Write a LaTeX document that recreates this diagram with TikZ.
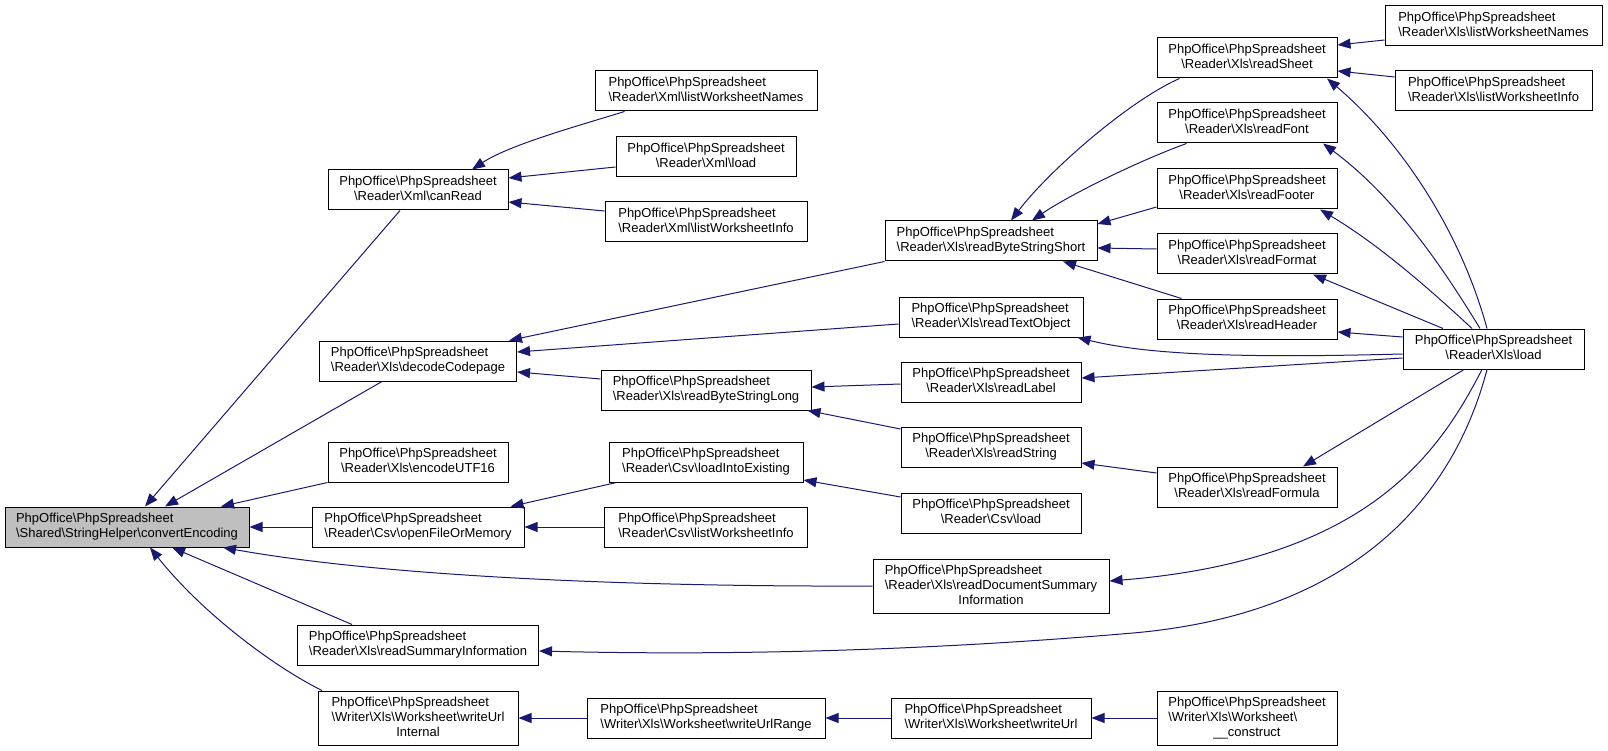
\documentclass[tikz,border=0pt]{standalone}
\usepackage{fontspec}
\setmainfont{Liberation Sans}
\usetikzlibrary{calc,arrows.meta}
\definecolor{edgec}{HTML}{191970}
\definecolor{rootc}{HTML}{BFBFBF}
\tikzset{
  ar/.style={-{Triangle[length=13pt,width=10pt]},line width=1pt,edgec},
  box/.style={draw=black,line width=1pt,fill=white,inner sep=0pt,minimum width=180pt,minimum height=40pt,font=\fontsize{13}{15}\selectfont},
  tall/.style={minimum height=54pt}
}
\newcommand{\bs}{\textbackslash}
\newcommand{\pn}[1]{\begin{tabular}{@{}l@{}}PhpOffice\bs PhpSpreadsheet\\\multicolumn{1}{@{}c@{}}{#1}\end{tabular}}
\newcommand{\pnn}[2]{\begin{tabular}{@{}l@{}}PhpOffice\bs PhpSpreadsheet\\#1\\\multicolumn{1}{@{}c@{}}{#2}\end{tabular}}

\begin{document}
\begin{tikzpicture}[x=1pt,y=-1pt]
\useasboundingbox (0,0) rectangle (1608,751);
% callee
\node[box,fill=rootc,minimum width=244pt] (conv) at (127,527) {\pn{\bs Shared\bs StringHelper\bs convertEncoding}};
% first callers
\node[box] (canRead) at (418,190) {\pn{\bs Reader\bs Xml\bs canRead}};
\node[box,minimum width=197pt] (decode) at (418,361) {\pn{\bs Reader\bs Xls\bs decodeCodepage}};
\node[box] (encode) at (418,462) {\pn{\bs Reader\bs Xls\bs encodeUTF16}};
\node[box,minimum width=212pt] (openFile) at (418,527) {\pn{\bs Reader\bs Csv\bs openFileOrMemory}};
\node[box,minimum width=241pt] (readSumm) at (418,645) {\pn{\bs Reader\bs Xls\bs readSummaryInformation}};
\node[box,tall,minimum width=200pt] (wUrlInt) at (418,718) {\pnn{\bs Writer\bs Xls\bs Worksheet\bs writeUrl}{Internal}};
% second column
\node[box,minimum width=222pt] (xmlNames) at (706,91) {\pn{\bs Reader\bs Xml\bs listWorksheetNames}};
\node[box] (xmlLoad) at (706,157) {\pn{\bs Reader\bs Xml\bs load}};
\node[box,minimum width=202pt] (xmlInfo) at (706,222) {\pn{\bs Reader\bs Xml\bs listWorksheetInfo}};
\node[box,minimum width=210pt] (rbsl) at (706,390) {\pn{\bs Reader\bs Xls\bs readByteStringLong}};
\node[box,minimum width=194pt] (loadInto) at (706,462) {\pn{\bs Reader\bs Csv\bs loadIntoExisting}};
\node[box,minimum width=203pt] (csvInfo) at (706,527) {\pn{\bs Reader\bs Csv\bs listWorksheetInfo}};
\node[box,minimum width=238pt] (wUrlRange) at (706,718) {\pn{\bs Writer\bs Xls\bs Worksheet\bs writeUrlRange}};
% third column
\node[box,minimum width=212pt] (rbss) at (991,241) {\pn{\bs Reader\bs Xls\bs readByteStringShort}};
\node[box,minimum width=184pt] (rto) at (991,317) {\pn{\bs Reader\bs Xls\bs readTextObject}};
\node[box] (rLabel) at (991,382) {\pn{\bs Reader\bs Xls\bs readLabel}};
\node[box] (rString) at (991,447) {\pn{\bs Reader\bs Xls\bs readString}};
\node[box] (csvLoad) at (991,513) {\pn{\bs Reader\bs Csv\bs load}};
\node[box,tall,minimum width=236pt] (rDocSum) at (991,586) {\pnn{\bs Reader\bs Xls\bs readDocumentSummary}{Information}};
\node[box,minimum width=200pt] (wUrl) at (991,718) {\pn{\bs Writer\bs Xls\bs Worksheet\bs writeUrl}};
% fourth column
\node[box] (readSheet) at (1247,58) {\pn{\bs Reader\bs Xls\bs readSheet}};
\node[box] (readFont) at (1247,123) {\pn{\bs Reader\bs Xls\bs readFont}};
\node[box] (readFooter) at (1247,189) {\pn{\bs Reader\bs Xls\bs readFooter}};
\node[box] (readFormat) at (1247,254) {\pn{\bs Reader\bs Xls\bs readFormat}};
\node[box] (readHeader) at (1247,319) {\pn{\bs Reader\bs Xls\bs readHeader}};
\node[box] (readFormula) at (1247,487) {\pn{\bs Reader\bs Xls\bs readFormula}};
\node[box,tall] (construct) at (1247,718) {\pnn{\bs Writer\bs Xls\bs Worksheet\bs}{\_\_construct}};
% fifth column
\node[box,minimum width=217pt] (xlsNames) at (1493.5,26) {\pn{\bs Reader\bs Xls\bs listWorksheetNames}};
\node[box,minimum width=197pt] (xlsInfo) at (1493.5,91) {\pn{\bs Reader\bs Xls\bs listWorksheetInfo}};
\node[box,minimum width=181pt] (xlsLoad) at (1493.5,349) {\pn{\bs Reader\bs Xls\bs load}};

% calls into convertEncoding
\draw[ar] ($(canRead.south)+(-18,0)$) -- ($(conv.north)+(18,0)$);
\draw[ar] ($(decode.south)+(-36,0)$) -- ($(conv.north)+(38,0)$);
\draw[ar] (encode.south west) -- ($(conv.north)+(94,0)$);
\draw[ar] (openFile.west) -- (conv.east);
\draw[ar] (rDocSum.west) .. controls +(-253,1) and +(157,28) .. ($(conv.south)+(96,0)$);
\draw[ar] ($(readSumm.north)+(-66,0)$) -- ($(conv.south)+(45,0)$);
\draw[ar] ($(wUrlInt.north)+(-96,0)$) .. controls +(-52,-26) and +(50,63) .. ($(conv.south)+(23,0)$);
% second level
\draw[ar] ($(xmlNames.south west)+(30,0)$) .. controls +(-45,14) and +(38,-25) .. ($(canRead.north)+(54,0)$);
\draw[ar] ($(xmlLoad.west)+(0,10)$) -- ($(canRead.east)+(0,-12)$);
\draw[ar] ($(xmlInfo.west)+(0,-11)$) -- ($(canRead.east)+(0,12)$);
\draw[ar] (rbss.south west) -- ($(decode.north east)+(-8,0)$);
\draw[ar] ($(rto.west)+(0,7)$) -- ($(decode.east)+(0,-9)$);
\draw[ar] ($(rbsl.west)+(0,-11)$) -- ($(decode.east)+(0,11)$);
\draw[ar] ($(loadInto.south west)+(8,0)$) -- ($(openFile.north east)+(-14,0)$);
\draw[ar] (csvInfo.west) -- (openFile.east);
\draw[ar] (wUrlRange.west) -- (wUrlInt.east);
% third level
\draw[ar] ($(readSheet.south west)+(23,0)$) .. controls +(-50,22) and +(39,-51) .. ($(rbss.north)+(20,0)$);
\draw[ar] ($(readFont.south west)+(30,0)$) .. controls +(-47,17) and +(38,-26) .. ($(rbss.north)+(41,0)$);
\draw[ar] ($(readFooter.west)+(0,18)$) -- ($(rbss.east)+(0,-17)$);
\draw[ar] ($(readFormat.west)+(0,-5)$) -- ($(rbss.east)+(0,7)$);
\draw[ar] ($(readHeader.north west)+(25,0)$) -- ($(rbss.south)+(72,0)$);
\draw[ar] ($(rLabel.west)+(0,2)$) -- ($(rbsl.east)+(0,-3)$);
\draw[ar] ($(rString.west)+(0,-18)$) -- ($(rbsl.south east)+(-4,0)$);
\draw[ar] ($(csvLoad.west)+(0,-16)$) -- ($(loadInto.east)+(0,18)$);
\draw[ar] (wUrl.west) -- (wUrlRange.east);
% fourth level
\draw[ar] ($(readFormula.west)+(0,-14)$) -- ($(rString.east)+(0,16)$);
\draw[ar] (construct.west) -- (wUrl.east);
\draw[ar] ($(xlsNames.west)+(0,14)$) -- ($(readSheet.east)+(0,-13)$);
\draw[ar] ($(xlsInfo.west)+(0,-14)$) -- ($(readSheet.east)+(0,13)$);
% Xls load
\draw[ar] ($(xlsLoad.north)+(-6.5,0)$) .. controls +(-27,-99) and +(73,62) .. ($(readSheet.south)+(80,0)$);
\draw[ar] ($(xlsLoad.north)+(-13.5,0)$) .. controls +(-30,-49) and +(77,57) .. ($(readFont.south)+(76,0)$);
\draw[ar] ($(xlsLoad.north)+(-21.5,0)$) .. controls +(-42,-39) and +(60,36) .. ($(readFooter.south)+(73,0)$);
\draw[ar] ($(xlsLoad.north)+(-50.5,0)$) -- ($(readFormat.south)+(66,0)$);
\draw[ar] ($(xlsLoad.west)+(0,-12)$) -- ($(readHeader.east)+(0,13)$);
\draw[ar] ($(xlsLoad.west)+(0,5)$) .. controls +(-153,4) and +(73,18) .. ($(rto.south east)+(-6,0)$);
\draw[ar] ($(xlsLoad.west)+(0,9)$) -- ($(rLabel.east)+(0,-4)$);
\draw[ar] ($(xlsLoad.south)+(-29.5,0)$) -- ($(readFormula.north)+(56,0)$);
\draw[ar] ($(xlsLoad.south)+(-11.5,0)$) .. controls +(-42,81) and +(261,-21) .. ($(rDocSum.east)+(0,-5)$);
\draw[ar] ($(xlsLoad.south)+(-6.5,0)$) .. controls +(-37,141) and +(207,-18) .. (1133,633)
  .. controls +(-233,20) and +(162,4) .. ($(readSumm.east)+(0,6)$);
\end{tikzpicture}
\end{document}
